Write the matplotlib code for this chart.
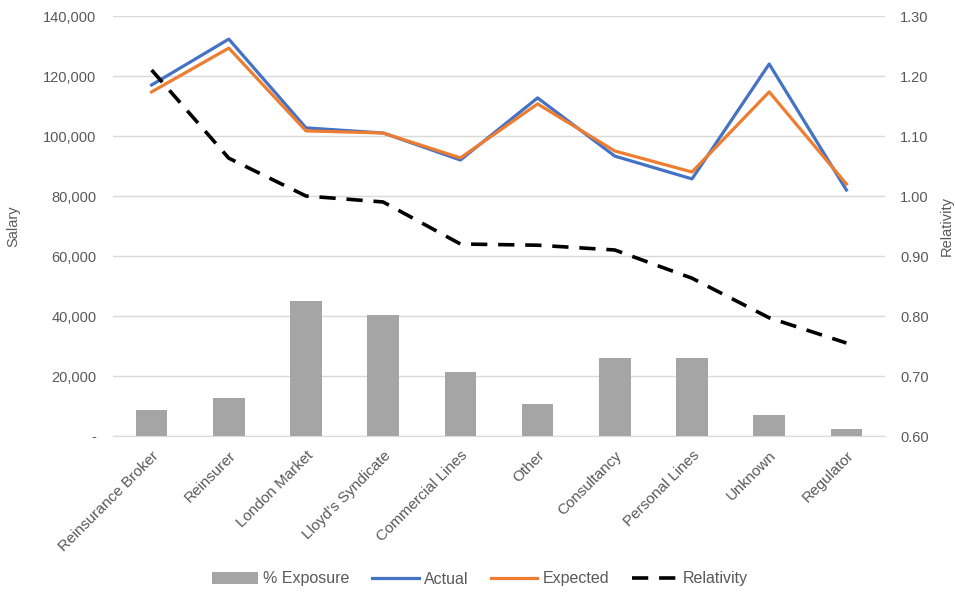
import matplotlib
matplotlib.use("Agg")
import matplotlib.pyplot as plt
from matplotlib.ticker import FuncFormatter, MultipleLocator
import numpy as np

plt.rcParams['font.family'] = ['Liberation Sans', 'DejaVu Sans']

categories = ["Reinsurance Broker", "Reinsurer", "London Market", "Lloyd's Syndicate",
              "Commercial Lines", "Other", "Consultancy", "Personal Lines", "Unknown", "Regulator"]
exposure = [8700, 12700, 45000, 40300, 21300, 10700, 26000, 26000, 7000, 2300]
actual = [117000, 132300, 102700, 101000, 92000, 112700, 93300, 85700, 124000, 82000]
expected = [114700, 129300, 101700, 101000, 92700, 110700, 95000, 88000, 114700, 84000]
relativity = [1.21, 1.063, 1.00, 0.99, 0.92, 0.918, 0.91, 0.863, 0.797, 0.755]

text_col = "#595959"
grid_col = "#d9d9d9"

fig = plt.figure(figsize=(9.55, 5.92), dpi=100)
ax = fig.add_axes([113/955, 1 - 436/592, 772/955, 420/592])
ax2 = ax.twinx()

x = np.arange(len(categories))
bars = ax.bar(x, exposure, width=0.41, color="#a5a5a5", label="% Exposure", zorder=2)
l1, = ax.plot(x, actual, color="#4472c4", lw=2.3, label="Actual", zorder=3)
l2, = ax.plot(x, expected, color="#ed7d31", lw=2.3, label="Expected", zorder=4)
l3, = ax2.plot(x, relativity, color="black", lw=2.6, ls=(0, (4.5, 3)), label="Relativity")

ax.set_xlim(-0.5, len(categories) - 0.5)
ax.set_ylim(0, 140000)
ax.yaxis.set_major_locator(MultipleLocator(20000))
ax.yaxis.set_major_formatter(FuncFormatter(lambda v, p: "-" if v == 0 else f"{v:,.0f}"))
ax2.set_ylim(0.6, 1.3)
ax2.yaxis.set_major_locator(MultipleLocator(0.1))
ax2.yaxis.set_major_formatter(FuncFormatter(lambda v, p: f"{v:.2f}"))

ax.grid(axis="y", color=grid_col, lw=1, zorder=0)
ax.set_axisbelow(True)

for a in (ax, ax2):
    for s in ("top", "left", "right"):
        a.spines[s].set_visible(False)
    a.spines["bottom"].set_color(grid_col)
    a.tick_params(length=0, colors=text_col, labelsize=10.5)
ax2.spines["bottom"].set_visible(False)

ax.tick_params(axis="y", pad=12)
ax2.tick_params(axis="y", pad=11)
ax.set_xticks(x)
ax.set_xticklabels(categories, rotation=45, ha="right", rotation_mode="anchor", fontsize=11)
ax.tick_params(axis="x", pad=9)

ax.set_ylabel("Salary", color=text_col, fontsize=10.5)
ax2.set_ylabel("Relativity", color=text_col, fontsize=10.5)
ax.yaxis.set_label_coords(20/955, 1 - 226/592, transform=fig.transFigure)
ax2.yaxis.set_label_coords(940/955, 1 - 226/592, transform=fig.transFigure)

fig.legend(handles=[bars, l1, l2, l3], loc="center", bbox_to_anchor=(480/955, 1 - 579/592),
           ncol=4, frameon=False, fontsize=11.5, labelcolor=text_col,
           handlelength=2.9, handletextpad=0.3, columnspacing=1.45)

fig.savefig("out.png", dpi=100, facecolor="white")
